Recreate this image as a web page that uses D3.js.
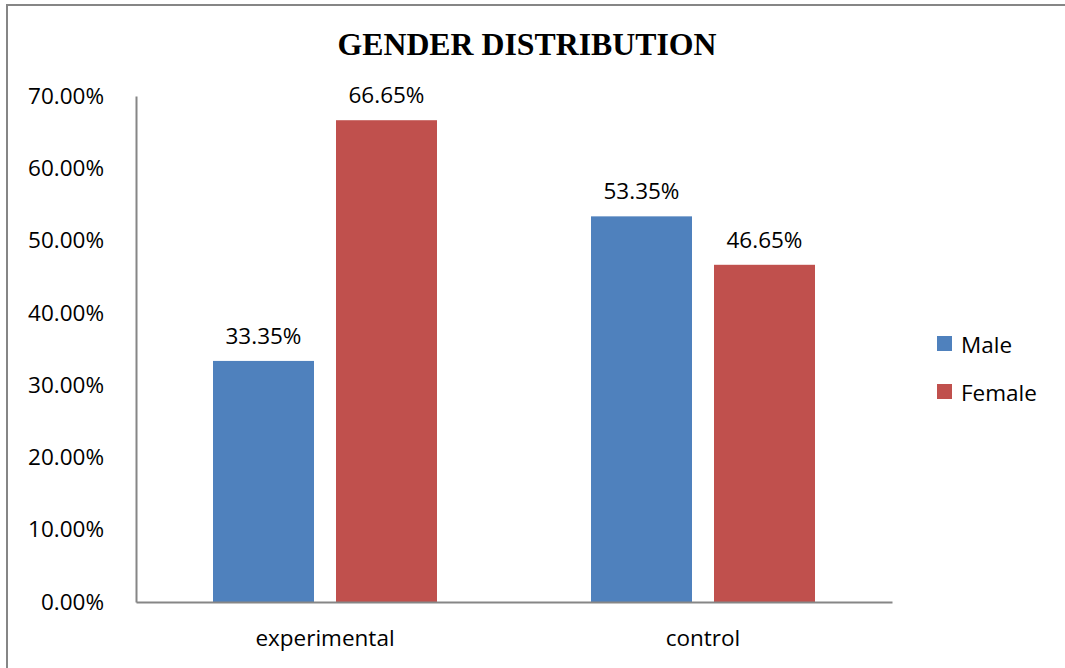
<!DOCTYPE html>
<html><head><meta charset="utf-8">
<script src="https://cdn.jsdelivr.net/npm/d3@7"></script>
<style>
html,body{margin:0;padding:0;background:#fff;}
svg{display:block;}
</style>
</head><body>
<svg id="chart" width="1065" height="668"></svg>
<script>
const categories = ["experimental", "control"];
const seriesNames = ["Male", "Female"];
const maleValues = [0.3335, 0.5335];
const femaleValues = [0.6665, 0.4665];
const seriesColors = ["#4F81BD", "#C0504D"];
const yTicks = [0, 0.1, 0.2, 0.3, 0.4, 0.5, 0.6, 0.7];
const titleText = "GENDER DISTRIBUTION";

(function () {
const svg = d3.select("#chart");
const font = "'Open Sans', 'Liberation Sans', sans-serif";
const fs = 22.5;

// frame
svg.append("rect").attr("x", 7).attr("y", 5).attr("width", 1070).attr("height", 680)
  .attr("fill", "none").attr("stroke", "#868686").attr("stroke-width", 2);

const pLeft = 136, pRight = 892, pTop = 96, pBottom = 602;
const y = d3.scaleLinear().domain([0, 0.7]).range([pBottom, pTop]);
const x0 = d3.scaleBand().domain(categories).range([pLeft, pRight]).padding(0);
const x1 = d3.scaleBand().domain(seriesNames).range([0, x0.bandwidth()])
  .paddingInner(22/123).paddingOuter(77/123);

const data = categories.map((c, i) => ({
  cat: c,
  vals: [{s: "Male", v: maleValues[i], c: seriesColors[0]}, {s: "Female", v: femaleValues[i], c: seriesColors[1]}]
}));

// title
svg.append("text").attr("x", 527).attr("y", 55).attr("text-anchor", "middle")
  .attr("font-family", "'Liberation Serif', 'Times New Roman', serif").attr("font-weight", "bold")
  .attr("font-size", 31.8).attr("fill", "#000").text(titleText);

// y axis
const yAxis = d3.axisLeft(y).tickValues(yTicks).tickFormat(d3.format(".2%")).tickSize(0).tickPadding(32);
const yg = svg.append("g").attr("transform", `translate(${pLeft},0)`).call(yAxis);
yg.select(".domain").attr("stroke", "#868686").attr("stroke-width", 2);
yg.selectAll("text").attr("font-family", font).attr("font-size", fs).attr("fill", "#000");

// bars
const groups = svg.append("g").selectAll("g").data(data).join("g")
  .attr("transform", d => `translate(${x0(d.cat)},0)`);
groups.selectAll("rect").data(d => d.vals).join("rect")
  .attr("x", d => x1(d.s)).attr("width", x1.bandwidth())
  .attr("y", d => y(d.v)).attr("height", d => pBottom - y(d.v))
  .attr("fill", d => d.c);
groups.selectAll("text").data(d => d.vals).join("text")
  .attr("x", d => x1(d.s) + x1.bandwidth()/2).attr("y", d => y(d.v) - 17)
  .attr("text-anchor", "middle").attr("font-family", font).attr("font-size", fs).attr("fill", "#000")
  .text(d => d3.format(".2%")(d.v));

// x axis
const xAxis = d3.axisBottom(x0).tickSize(0).tickPadding(28);
const xg = svg.append("g").attr("transform", `translate(0,${pBottom})`).call(xAxis);
xg.select(".domain").attr("stroke", "#868686").attr("stroke-width", 2);
xg.selectAll("text").attr("font-family", font).attr("font-size", fs).attr("fill", "#000");

// legend
const legend = svg.append("g");
seriesNames.forEach((s, i) => {
  const ly = 336 + i * 48;
  legend.append("rect").attr("x", 937).attr("y", ly).attr("width", 15).attr("height", 15).attr("fill", seriesColors[i]);
  legend.append("text").attr("x", 961).attr("y", ly + 17).attr("font-family", font).attr("font-size", fs)
    .attr("fill", "#000").text(s);
});
})();
</script>
</body></html>
